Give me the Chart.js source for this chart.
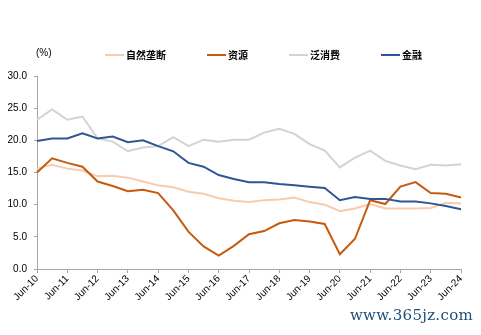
<!DOCTYPE html>
<html>
<head>
<meta charset="utf-8">
<script src="https://cdn.jsdelivr.net/npm/chart.js@4.4.1/dist/chart.umd.min.js"></script>
<style>
  html, body { margin: 0; padding: 0; background: #fff; }
  #wrap { position: relative; width: 481px; height: 335px; }
  #mark {
    position: absolute; right: 8px; top: 306px;
    font: 15px "DejaVu Serif", serif; color: #1f4e79; letter-spacing: 0.3px;
  }
</style>
</head>
<body>
<div id="wrap">
  <canvas id="c" width="481" height="335"></canvas>
  <div id="mark">www.365jz.com</div>
</div>
<script>
/* global Chart */

// half-year points, Jun-10 .. Jun-24
const periods = [];
for (let y = 10; y <= 24; y++){
  periods.push(`Jun-${y}`);
  if (y < 24) periods.push(`Dec-${y}`);
}

const seriesNames = ["自然垄断", "资源", "泛消费", "金融"];

const naturalMonopoly = [15.6, 16.2, 15.6, 15.3, 14.4, 14.5, 14.2, 13.6, 13.0, 12.7,
  12.0, 11.7, 11.0, 10.6, 10.4, 10.7, 10.8, 11.1, 10.4, 10.0,
  9.0, 9.4, 10.1, 9.4, 9.4, 9.4, 9.5, 10.3, 10.2];

const resources = [15.0, 17.2, 16.5, 15.9, 13.6, 12.9, 12.1, 12.3, 11.8, 9.1,
  5.8, 3.5, 2.1, 3.6, 5.4, 5.9, 7.1, 7.6, 7.4, 7.0,
  2.3, 4.7, 10.7, 10.1, 12.8, 13.5, 11.8, 11.7, 11.1];

const consumption = [23.2, 24.8, 23.2, 23.7, 20.3, 19.8, 18.3, 18.9, 19.1, 20.5,
  19.1, 20.1, 19.8, 20.1, 20.1, 21.2, 21.8, 21.0, 19.4, 18.4,
  15.8, 17.3, 18.4, 16.8, 16.1, 15.5, 16.2, 16.1, 16.3];

const finance = [19.9, 20.3, 20.3, 21.1, 20.3, 20.6, 19.7, 20.0, 19.1, 18.3,
  16.5, 15.9, 14.6, 14.0, 13.5, 13.5, 13.2, 13.0, 12.8, 12.6,
  10.7, 11.2, 10.9, 10.9, 10.5, 10.5, 10.2, 9.8, 9.3];

const yTicks = [0, 5, 10, 15, 20, 25, 30];

const COLORS = ["#F8CBAD", "#C55A11", "#D3D3D3", "#2F5597"];
const AXIS = "#A6A6A6";
const FONT = "'Liberation Sans', Arial, sans-serif";
const CJK = "'Noto Sans CJK SC', sans-serif";

// legend + unit label drawn by hand, items spaced like the source
const topLegend = {
  id: "topLegend",
  afterDraw(chart){
    const ctx = chart.ctx;
    ctx.save();
    ctx.fillStyle = "#000";
    ctx.font = `10px ${FONT}`;
    ctx.textBaseline = "middle";
    ctx.fillText("(%)", 36, 53);

    ctx.font = `bold 10px ${CJK}`;
    let x = 105;
    const y = 55;
    chart.data.datasets.forEach(ds => {
      ctx.strokeStyle = ds.borderColor;
      ctx.lineWidth = 2;
      ctx.beginPath();
      ctx.moveTo(x, y);
      ctx.lineTo(x + 19, y);
      ctx.stroke();
      ctx.fillText(ds.label, x + 21, y);
      x += 21 + ctx.measureText(ds.label).width + 41;
    });
    ctx.restore();
  }
};

const seriesData = [naturalMonopoly, resources, consumption, finance];

new Chart(document.getElementById("c"), {
  type: "line",
  data: {
    labels: periods,
    datasets: seriesNames.map((name, i) => ({
      label: name,
      data: seriesData[i],
      borderColor: COLORS[i],
      backgroundColor: COLORS[i],
      borderWidth: 2,
      pointRadius: 0,
      tension: 0,
      order: seriesNames.length - i
    }))
  },
  options: {
    responsive: false,
    animation: false,
    layout: { padding: { top: 76, right: 20, left: 0, bottom: 0 } },
    plugins: {
      legend: { display: false },
      tooltip: { enabled: false }
    },
    scales: {
      x: {
        offset: false,
        grid: { display: true, drawOnChartArea: false, color: AXIS, tickLength: 4 },
        border: { color: AXIS },
        ticks: {
          autoSkip: false,
          minRotation: 45,
          maxRotation: 45,
          color: "#000",
          font: { family: FONT, size: 10 },
          padding: 0,
          callback(v, i){ return i % 2 === 0 ? periods[i] : null; }
        },
        afterFit(scale){ scale.height = 66; }
      },
      y: {
        min: 0,
        max: 30,
        afterBuildTicks(scale){ scale.ticks = yTicks.map(v => ({ value: v })); },
        grid: { display: true, drawOnChartArea: false, color: AXIS, tickLength: 3 },
        border: { color: AXIS },
        ticks: {
          color: "#000",
          font: { family: FONT, size: 10 },
          padding: 7,
          callback: v => v.toFixed(1)
        },
        afterFit(scale){ scale.width = 37; }
      }
    }
  },
  plugins: [topLegend]
});
</script>
</body>
</html>
